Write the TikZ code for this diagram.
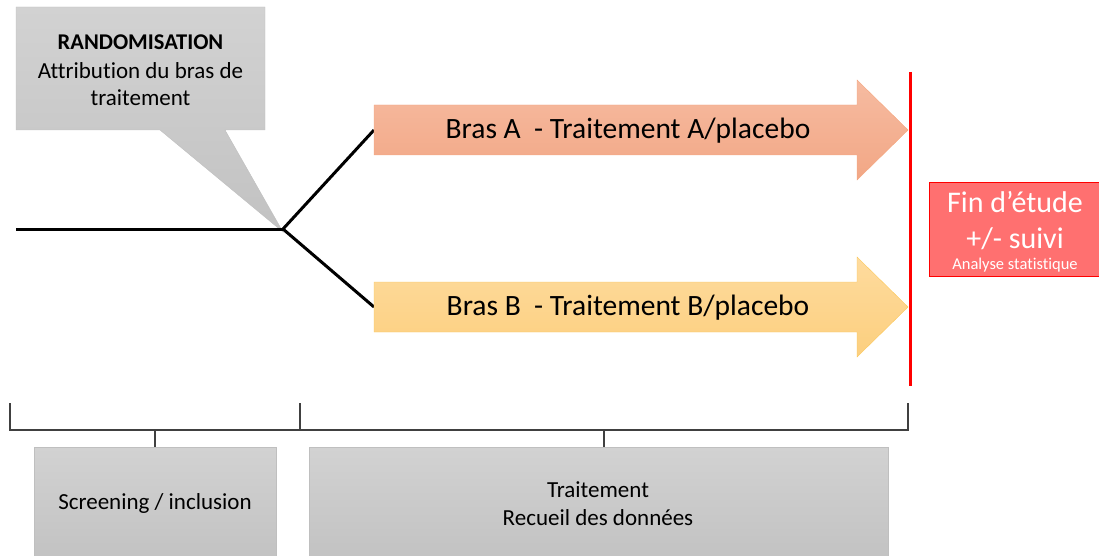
\documentclass[tikz,border=0pt]{standalone}
\usepackage{fontspec}
\setmainfont{Carlito}[Ligatures=NoCommon]
\usepackage{tikz}

\definecolor{callgray}{HTML}{D2D2D2}
\definecolor{callgraydk}{HTML}{C2C2C2}
\definecolor{callline}{HTML}{BFBFBF}
\definecolor{armAtop}{HTML}{F6BBA1}
\definecolor{armAbot}{HTML}{F2A785}
\definecolor{armAline}{HTML}{F4A57E}
\definecolor{armBtop}{HTML}{FEDB9E}
\definecolor{armBbot}{HTML}{FCCF7E}
\definecolor{armBline}{HTML}{FBC85A}
\definecolor{endfill}{HTML}{FF7070}
\definecolor{brackline}{HTML}{404040}

\begin{document}
\begin{tikzpicture}[x=1pt,y=1pt,yscale=-1]
\useasboundingbox (0,0) rectangle (1099,556);

%Shape: Callout [id:randomisation]
\draw [callline, top color=callgray, bottom color=callgraydk] (16,7) -- (265,7) -- (265,130) -- (225,130) -- (283,232) -- (160,130) -- (16,130) -- cycle ;

%Straight Lines [id:screening]
\coordinate (start) at (16,229);
\coordinate (split) at (283,229);
\coordinate (tailA) at (374,130);
\coordinate (tailB) at (374,307);
\draw [line width=3pt] (start) -- (split) ;
%Straight Lines [id:branchA]
\draw [line width=3pt] (split) -- (tailA) ;
%Straight Lines [id:branchB]
\draw [line width=3pt] (split) -- (tailB) ;

%Shape: Right Arrow [id:armA]
\draw [armAline, top color=armAtop, bottom color=armAbot] (374,105) -- (857,105) -- (857,80) -- (908,130) -- (857,180) -- (857,155) -- (374,155) -- cycle ;
%Shape: Right Arrow [id:armB]
\draw [armBline, top color=armBtop, bottom color=armBbot] (374,282) -- (857,282) -- (857,257) -- (908,307) -- (857,357) -- (857,332) -- (374,332) -- cycle ;

%Straight Lines [id:endline]
\coordinate (endtop) at (910,72);
\coordinate (endbot) at (910,386);
\draw [red, line width=3pt] (endtop) -- (endbot) ;

%Shape: Rectangle [id:endbox]
\draw [red, fill=endfill, line width=1pt] (929,182) rectangle (1099.5,276) ;

%Straight Lines [id:bracketL]
\draw [brackline, line width=1.5pt] (10,403) -- (10,430) -- (300,430) -- (300,403) ;
%Straight Lines [id:bracketR]
\draw [brackline, line width=1.5pt] (300,430) -- (908,430) -- (908,403) ;
%Straight Lines [id:tickL]
\draw [brackline, line width=1.5pt] (155,430) -- (155,447) ;
%Straight Lines [id:tickR]
\draw [brackline, line width=1.5pt] (604,430) -- (604,447) ;

%Shape: Rectangle [id:screenbox]
\draw [callline, top color=callgray, bottom color=callgraydk] (34,447) rectangle (276,560) ;
%Shape: Rectangle [id:treatbox]
\draw [callline, top color=callgray, bottom color=callgraydk] (309,447) rectangle (888,560) ;

% Text Node
\draw (140.5,42) node [inner sep=0pt] [font=\fontsize{22.5}{27}\selectfont\bfseries] (randtitle) {RANDOMISATION};
% Text Node
\draw (140.5,84) node [inner sep=0pt, align=center] [font=\fontsize{23}{27.5}\selectfont] (randtext) {Attribution du bras de\\traitement};
% Text Node
\draw (628,131) node [inner sep=0pt] [font=\fontsize{29.5}{34}\selectfont] (labelA) {Bras A\ \ - Traitement A/placebo};
% Text Node
\draw (628,308) node [inner sep=0pt] [font=\fontsize{29.5}{34}\selectfont] (labelB) {Bras B\ \ - Traitement B/placebo};
% Text Node
\draw (1015,202) node [inner sep=0pt, text=white] [font=\fontsize{30}{34}\selectfont] (fin) {Fin d’étude};
% Text Node
\draw (1015,239) node [inner sep=0pt, text=white] [font=\fontsize{30}{34}\selectfont] (suivi) {+/- suivi};
% Text Node
\draw (1015,265) node [inner sep=0pt, text=white] [font=\fontsize{16.5}{20}\selectfont] (analyse) {Analyse statistique};
% Text Node
\draw (155,503) node [inner sep=0pt] [font=\fontsize{23}{27}\selectfont] (screentext) {Screening / inclusion};
% Text Node
\draw (598,504) node [inner sep=0pt, align=center] [font=\fontsize{23}{28}\selectfont] (treattext) {Traitement\\Recueil des données};

\end{tikzpicture}
\end{document}
